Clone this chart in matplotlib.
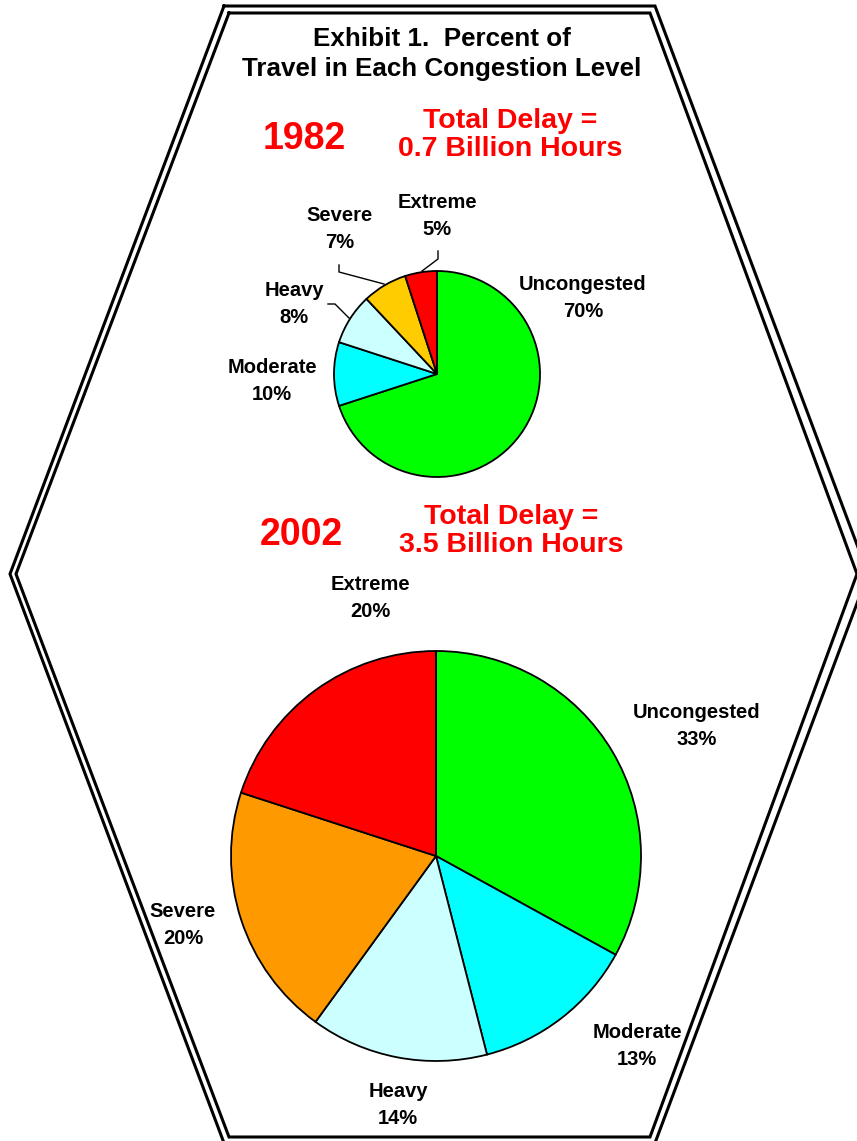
import matplotlib
matplotlib.use("Agg")
import matplotlib.pyplot as plt

plt.rcParams['font.family'] = ['Liberation Sans', 'DejaVu Sans']

# ---- data ----
categories = ["Uncongested", "Moderate", "Heavy", "Severe", "Extreme"]
values_1982 = [70, 10, 8, 7, 5]
values_2002 = [33, 13, 14, 20, 20]
colors_1982 = ["#00FF00", "#00FFFF", "#CCFFFF", "#FFCC00", "#FF0000"]
colors_2002 = ["#00FF00", "#00FFFF", "#CCFFFF", "#FF9900", "#FF0000"]
title = "Exhibit 1.  Percent of\nTravel in Each Congestion Level"
delay_1982 = "Total Delay =\n0.7 Billion Hours"
delay_2002 = "Total Delay =\n3.5 Billion Hours"

W, H = 857, 1141
fig = plt.figure(figsize=(W / 100, H / 100), dpi=100)
ax = fig.add_axes([0, 0, 1, 1])


def Y(py):
    return H - py


# hexagon double border
outer = [(224, 6), (655, 6), (868, 574), (655, 1143), (224, 1143), (10, 574), (224, 6)]
inner = [(229, 13), (650, 13), (857, 574), (650, 1137), (229, 1137), (16, 574), (229, 13)]
for poly in (outer, inner):
    ax.plot([p[0] for p in poly], [Y(p[1]) for p in poly], color="black", lw=2.2,
            solid_joinstyle="miter", zorder=1)

wp = dict(edgecolor="black", linewidth=1.3)
ax.pie(values_1982, colors=colors_1982, startangle=90, counterclock=False,
       center=(437, Y(374)), radius=103, wedgeprops=wp, frame=True)
ax.pie(values_2002, colors=colors_2002, startangle=90, counterclock=False,
       center=(436, Y(856)), radius=205, wedgeprops=wp, frame=True)

# text
ax.text(442, Y(54), title, ha="center", va="center", fontsize=18.7, fontweight="bold",
        linespacing=1.3)
ax.text(304, Y(139), "1982", ha="center", va="center", fontsize=27, fontweight="bold",
        color="#FF0000")
ax.text(510, Y(135), delay_1982, ha="center", va="center", fontsize=20.5,
        fontweight="bold", color="#FF0000", linespacing=1.1)
ax.text(301, Y(535), "2002", ha="center", va="center", fontsize=27, fontweight="bold",
        color="#FF0000")
ax.text(511, Y(531), delay_2002, ha="center", va="center", fontsize=20.5,
        fontweight="bold", color="#FF0000", linespacing=1.1)

lab_pos_1982 = [(583, 298), (272, 381), (294, 304), (340, 229), (437, 216)]
lab_pos_2002 = [(697, 726), (637, 1046), (398, 1105), (183, 925), (370, 598)]
lab_fs = 14.5
for cat, v, p in zip(categories, values_1982, lab_pos_1982):
    ax.text(p[0], Y(p[1]), f"{cat}\n{v}%", ha="center", va="center", fontsize=lab_fs,
            fontweight="bold", linespacing=1.5)
for cat, v, p in zip(categories, values_2002, lab_pos_2002):
    ax.text(p[0], Y(p[1]), f"{cat}\n{v}%", ha="center", va="center", fontsize=lab_fs,
            fontweight="bold", linespacing=1.5)

# leader lines (1982)
leaders = [
    [(328, 304), (335, 304), (349, 318)],
    [(339, 265), (339, 272), (384, 284)],
    [(438, 251), (438, 259), (422, 271)],
]
for ln in leaders:
    ax.plot([p[0] for p in ln], [Y(p[1]) for p in ln], color="black", lw=1.0)

ax.set_xlim(0, W)
ax.set_ylim(0, H)
ax.set_aspect("equal")
ax.axis("off")
fig.savefig("out.png", dpi=100, facecolor="white")
